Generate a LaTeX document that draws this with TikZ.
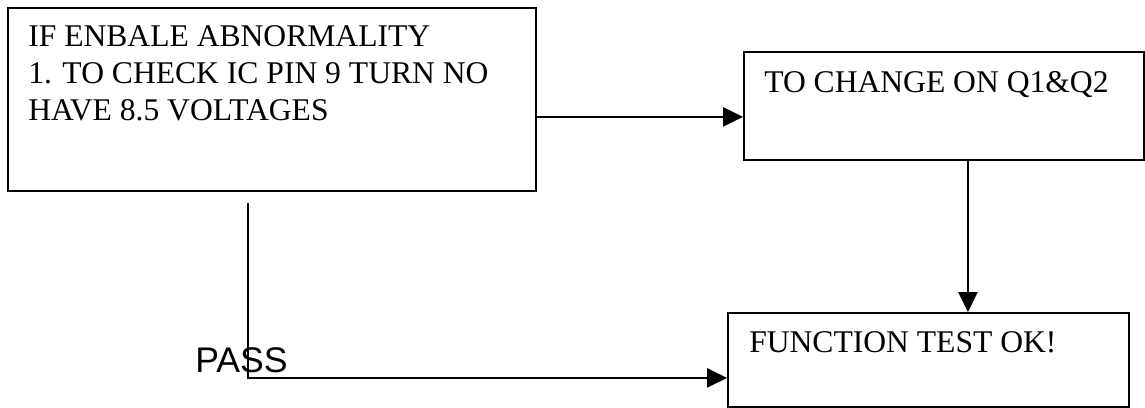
\documentclass[tikz,border=0pt]{standalone}
\usepackage{fontspec}
\setmainfont{Liberation Serif}
\newfontfamily\passfont{Liberation Sans}
\usetikzlibrary{arrows.meta}
\tikzset{
 box/.style={draw=black, line width=1.4pt, anchor=north west, inner sep=0pt},
 txt/.style={anchor=base west, inner sep=0pt, align=left, font=\fontsize{23.7}{27.75}\selectfont},
 flow/.style={line width=1.15pt, -{Triangle[length=15pt,width=14.5pt]}}
}
\begin{document}
\begin{tikzpicture}[x=0.75pt,y=-0.75pt]
\useasboundingbox (0,0) rectangle (1145,407);
\node[box, minimum width=396pt, minimum height=137.25pt] (check) at (7,7) {};
\node[box, minimum width=300pt, minimum height=81pt] (change) at (743,51) {};
\node[box, minimum width=300.75pt, minimum height=70.5pt] (result) at (727,312) {};
% base of a multi-line node is its last line
\node[txt] (checktxt) at (28,120) {IF ENBALE ABNORMALITY\\1. TO CHECK IC PIN 9 TURN NO\\HAVE 8.5 VOLTAGES};
\node[txt] (changetxt) at (764,92) {TO CHANGE ON Q1\&Q2};
\node[txt] (resulttxt) at (749,352) {FUNCTION TEST OK!};
\node[anchor=base west, inner sep=0pt, font=\passfont\fontsize{26.7}{30}\selectfont] (passlbl) at (195,372) {PASS};
\coordinate (tochange) at ([yshift=-13.1pt]check.east);
\coordinate (down) at ([xshift=18pt]change.south);
\coordinate (pass) at (248,203);
\coordinate (passin) at ([yshift=-13.5pt]result.west);
\draw[flow] (tochange) -- (tochange -| change.west);
\draw[flow] (down) -- (down |- result.north);
\draw[flow] (pass) |- (passin);
\end{tikzpicture}
\end{document}
